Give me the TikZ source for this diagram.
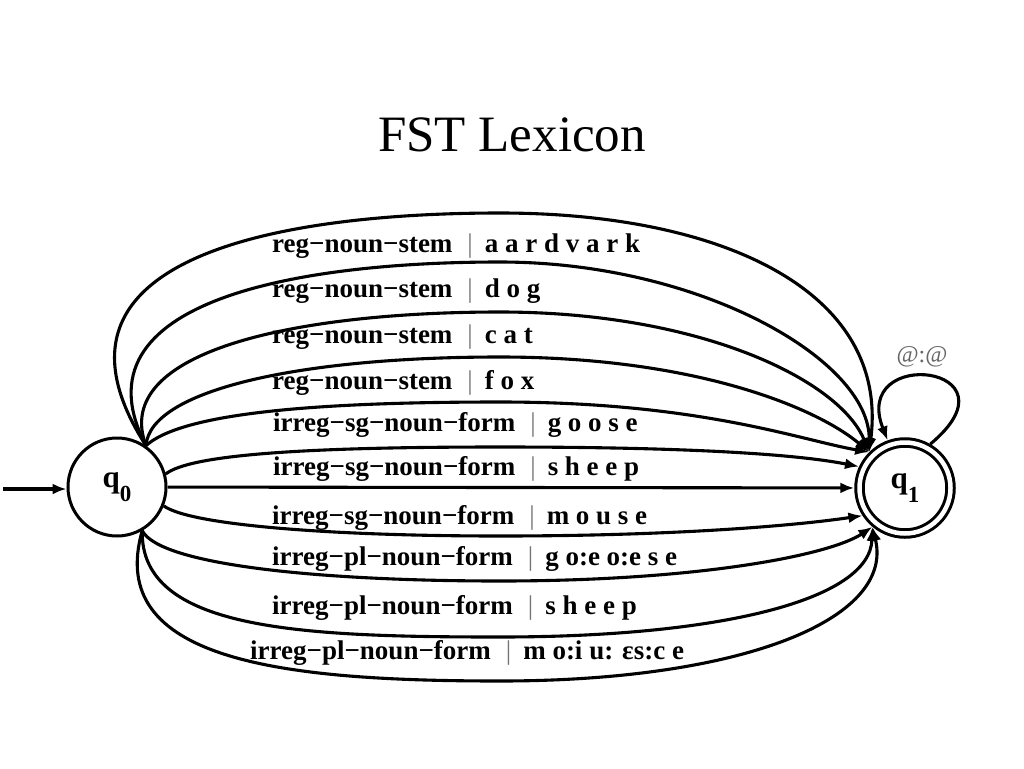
\documentclass[tikz,border=0pt]{standalone}
\usepackage{fontspec}
\setmainfont{Liberation Serif}
\usetikzlibrary{arrows.meta}
\newcommand{\barsep}{\hspace{15pt}{\color{black!55}\mdseries|}\hspace{12pt}}
\newcommand{\qlab}[1]{q\raisebox{-14pt}{\fontsize{23}{23}\selectfont #1}}
\begin{document}
\begin{tikzpicture}[x=1pt,y=-1pt,
  state/.style={circle,draw,line width=3pt,minimum size=98pt,inner sep=0pt,
    font=\bfseries\fontsize{31}{31}\selectfont},
  accept/.style={state,double,double distance=4.5pt,line width=3pt,minimum size=91pt,outer sep=5.25pt},
  edge/.style={line width=3.1pt,-{Latex[length=14pt,width=11pt]}},
  lbl/.style={anchor=base west,inner sep=0pt,font=\bfseries\fontsize{27}{30}\selectfont},
]
\useasboundingbox[fill=white] (0,0) rectangle (1024,768);

\node[font=\fontsize{51}{60}\selectfont] (title) at (512,135) {FST Lexicon};

\node[state] (q0) at (117,487) {\qlab{0}};
\node[accept] (q1) at (905,488) {\qlab{1}};
\coordinate (init) at (3,489);
\draw[edge] (init) -- (q0.west |- init);

% top arcs
\draw[edge] (q0.55) .. controls (20,250) and (300,213) .. (500,213)
  .. controls (720,213) and (890,290) .. (q1.135);
\draw[edge] (q0.55) .. controls (70,300) and (300,262) .. (500,262)
  .. controls (700,262) and (870,360) .. (q1.135);
\draw[edge] (q0.55) .. controls (110,350) and (300,312) .. (500,312)
  .. controls (700,312) and (840,380) .. (q1.135);
\draw[edge] (q0.55) .. controls (150,390) and (300,357) .. (500,357)
  .. controls (700,357) and (820,410) .. (q1.135);
\draw[edge] (q0.55) .. controls (180,415) and (300,402) .. (500,402)
  .. controls (700,402) and (800,440) .. (q1.135);
\draw[edge] (q0.15) .. controls (190,455) and (300,447) .. (500,447)
  .. controls (700,447) and (800,455) .. (q1.155);
% straight
\draw[edge] (q0) -- (q1);
% bottom arcs
\draw[edge] (q0.-22) .. controls (190,525) and (330,536) .. (500,536)
  .. controls (680,536) and (800,525) .. (q1.213);
\draw[edge] (q0.300) .. controls (160,565) and (320,581) .. (500,581)
  .. controls (700,581) and (830,555) .. (q1.230);
\draw[edge] (q0.300) .. controls (140,630) and (300,637) .. (500,637)
  .. controls (720,637) and (870,600) .. (q1.230);
\draw[edge] (q0.300) .. controls (105,660) and (280,681) .. (500,681)
  .. controls (740,681) and (895,620) .. (q1.230);

% self loop
\draw[edge] (q1.60) .. controls (1025,365) and (850,345) .. (q1.110);
\node[font=\fontsize{24}{24}\selectfont,text=black!60] (loop) at (922,357) {@:@};

% labels
\node[lbl] (l1) at (272,252) {reg−noun−stem\barsep a a r d v a r k};
\node[lbl] (l2) at (272,297) {reg−noun−stem\barsep d o g};
\node[lbl] (l3) at (272,343) {reg−noun−stem\barsep c a t};
\node[lbl] (l4) at (272,389) {reg−noun−stem\barsep f o x};
\node[lbl] (l5) at (273,431) {irreg−sg−noun−form\barsep g o o s e};
\node[lbl] (l6) at (273,475) {irreg−sg−noun−form\barsep s h e e p};
\node[lbl] (l7) at (272,524) {irreg−sg−noun−form\barsep m o u s e};
\node[lbl] (l8) at (272,565) {irreg−pl−noun−form\barsep g o:e o:e s e};
\node[lbl] (l9) at (272,614) {irreg−pl−noun−form\barsep s h e e p};
\node[lbl] (l10) at (250,659) {irreg−pl−noun−form\barsep m o:i u: εs:c e};
\end{tikzpicture}
\end{document}
